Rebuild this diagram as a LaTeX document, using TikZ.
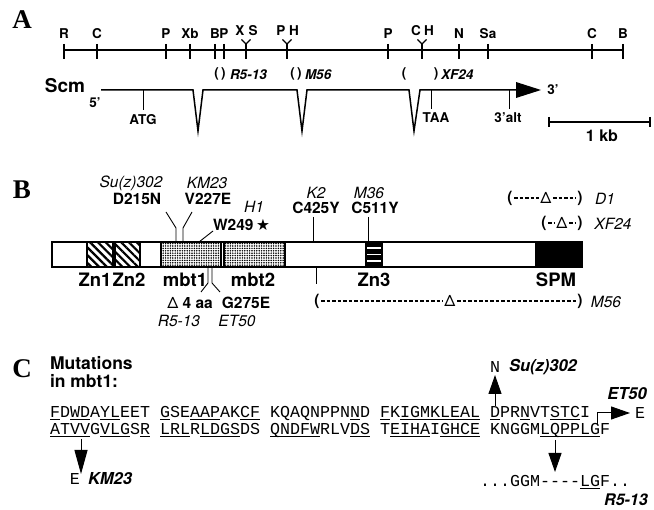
\documentclass[tikz,border=0pt]{standalone}
\usepackage{fontspec}
\setmainfont{TeX Gyre Heros}
\newfontfamily\seqfont{Liberation Mono}
\newfontfamily\panelfont{Liberation Serif}
\newfontfamily\symfont{DejaVu Sans}
\usepackage{tikz}
\usetikzlibrary{arrows.meta,patterns,patterns.meta,calc}
% underlined residue run in a sequence
\newcommand{\useg}[1]{\underline{\smash{#1}}}

\begin{document}
\begin{tikzpicture}[x=1pt,y=-1pt,
  every node/.style={inner sep=0pt,outer sep=0pt},
  panel/.style={font=\panelfont\bfseries\fontsize{27}{27}\selectfont},
  site/.style={font=\bfseries\fontsize{13.5}{13.5}\selectfont},
  allele/.style={font=\bfseries\itshape\fontsize{13.5}{13.5}\selectfont},
  small/.style={font=\bfseries\fontsize{13.5}{13.5}\selectfont},
  lab/.style={font=\bfseries\fontsize{18.5}{18.5}\selectfont},
  mut/.style={font=\bfseries\fontsize{15.5}{15.5}\selectfont},
  mutit/.style={font=\itshape\fontsize{15.5}{15.5}\selectfont},
  gap/.style={font=\fontsize{15.5}{15.5}\selectfont},
  seq/.style={font=\seqfont\fontsize{16.67}{17}\selectfont},
  callout/.style={font=\bfseries\itshape\fontsize{16.5}{16.5}\selectfont},
  stipple/.style={pattern={Dots[distance=2.4pt,radius=0.85pt]}},
  hatch/.style={pattern={Lines[angle=-45,distance=5.5pt,line width=2.2pt]}},
  mapline/.style={line width=2.4pt},
  cut/.style={line width=1.4pt},
  gene/.style={line width=1.5pt,line join=miter},
  pin/.style={line width=0.9pt},
  del/.style={line width=1.3pt,dash pattern=on 3.5pt off 2pt,shorten <=1.5pt,shorten >=1.5pt},
  mutarrow/.style={line width=1pt,-{Triangle[length=19pt,width=13pt]}}
]
\useasboundingbox (0,0) rectangle (654,510);

% ---------- A: restriction map and transcript
\node[panel] (pA) at (22,20) {A};
\draw[mapline] (64,50) -- (592,50);
\draw[line width=1.7pt] (592,50) -- (623,50);
\foreach \x/\e [count=\i] in {64/R,97/C,166/P,190/Xb,215/B,224/P,388/P,459/N,488/Sa,592/C,623/B}{
  \draw[cut] (\x,44) -- (\x,59);
  \node[site] (site\i) at (\x,34) {\e};
}
% paired sites
\foreach \x/\a/\b [count=\i] in {246/X/S,287/P/H,422/C/H}{
  \draw[cut] (\x-4.5,39.5) -- (\x,44) -- (\x+4.5,39.5);
  \draw[cut] (\x,44) -- (\x,59);
  \node[site] (pa\i) at (\x-6,31) {\a};
  \node[site] (pb\i) at (\x+7,31) {\b};
}
% breakpoints
\node[site] (br1) at (220,74) {(\,)};
\node[allele,anchor=west] (al1) at (230,75) {R5-13};
\node[site] (br2) at (296,74) {(\,)};
\node[allele,anchor=west] (al2) at (305,75) {M56};
\node[site] (br3) at (404,74) {(};
\node[site] (br4) at (436,74) {)};
\node[allele,anchor=west] (al3) at (441,75) {XF24};

\node[lab,font=\bfseries\fontsize{19}{19}\selectfont] (scm) at (65,86) {Scm};
\node[small] (end5) at (95,103) {5'};
\draw[gene] (101,90) -- (193,90) -- (198,131) -- (203,90) -- (297,90) -- (302,131)
  -- (307,90) -- (409,90) -- (414,131) -- (420,90) -- (517,90);
\fill (516,82) -- (541,90) -- (516,98) -- cycle;
\node[small] (end3) at (553,90) {3'};
\draw[pin,line width=1pt] (143,90) -- (143,110);
\node[small] (atg) at (143,120) {ATG};
\draw[pin,line width=1pt] (431,90) -- (431,109);
\node[small] (taa) at (436,118) {TAA};
\draw[pin,line width=1pt] (509,90) -- (509,109);
\node[small] (alt) at (508,118) {3'alt};
% scale bar
\draw[line width=1.2pt] (549,117) -- (549,127) (549,122) -- (650,122) (650,117) -- (650,127);
\node[lab,font=\bfseries\fontsize{16}{16}\selectfont] (kb) at (602,136) {1 kb};

% ---------- B: protein
\node[panel] (pB) at (22,190) {B};
\draw[line width=1.2pt,hatch] (87,242) rectangle (113,267);
\draw[line width=1.2pt,hatch] (115,242) rectangle (140,267);
\draw[line width=1.2pt,stipple] (161,242) rectangle (221,267);
\draw[line width=1.2pt,stipple] (224,242) rectangle (285,267);
\fill (365,242) rectangle (383,267);
\foreach \y in {248,254.5,261} \draw[white,line width=1.6pt] (367,\y) -- (381,\y);
\fill (535,242) rectangle (582,267);
\draw[line width=2pt] (52,242) rectangle (582,267);

\node[lab] (zn1) at (95,280) {Zn1};
\node[lab] (zn2) at (129,280) {Zn2};
\node[lab] (mbt1) at (185,280) {mbt1};
\node[lab] (mbt2) at (253,280) {mbt2};
\node[lab] (zn3) at (374,280) {Zn3};
\node[lab] (spm) at (556,280) {SPM};

% point mutations
\node[mutit] (suz) at (131,183) {Su(z)302};
\node[mut] (d215) at (137,199) {D215N};
\node[mutit] (km) at (207,183) {KM23};
\node[mut] (v227) at (208,199) {V227E};
\node[mutit] (h1) at (254,207) {H1};
\node[mut,anchor=west] (w249) at (213,225) {W249\,{\symfont ★}};
\node[mutit] (k2) at (316,193) {K2};
\node[mut] (c425) at (316,208) {C425Y};
\node[mutit] (m36) at (369,193) {M36};
\node[mut] (c511) at (375,208) {C511Y};
\draw[pin] (166,212) -- (176,228) -- (176,242);
\draw[pin] (192,212) -- (183,228) -- (183,242);
\draw[pin] (213,231) -- (199,242);
\draw[pin] (313,217) -- (313,242);
\draw[pin] (368,217) -- (368,242);
\draw[pin] (208,267) -- (208,283) -- (201,292);
\draw[pin] (212,267) -- (212,283) -- (220,292);
\draw[pin] (316,267) -- (316,284);
\node[mut] (d4) at (190,303) {{\mdseries Δ} 4 aa};
\node[mut] (g275) at (246,303) {G275E};
\node[mutit] (r513) at (179,321) {R5-13};
\node[mutit] (et50) at (237,321) {ET50};

% deletions
\node[mut] (d1l) at (510,198) {(};
\node[gap] (d1d) at (546,198) {Δ};
\node[mut] (d1r) at (580,198) {)};
\draw[del] (d1l) -- (d1d);
\draw[del] (d1d) -- (d1r);
\node[mutit] (d1) at (605,199) {D1};
\node[mut] (xfl) at (544,223) {(};
\node[gap] (xfd) at (562,223) {Δ};
\node[mut] (xfr) at (580,223) {)};
\draw[del] (xfl) -- (xfd);
\draw[del] (xfd) -- (xfr);
\node[mutit] (xf24) at (613,224) {XF24};
\node[mut] (m56l) at (317,301) {(};
\node[gap] (m56d) at (450,301) {Δ};
\node[mut] (m56r) at (580,301) {)};
\draw[del] (m56l) -- (m56d);
\draw[del] (m56d) -- (m56r);
\node[mutit] (m56) at (606,302) {M56};

% ---------- C: mbt1 sequence
\node[panel] (pC) at (22,369) {C};
\node[lab,font=\bfseries\fontsize{17.5}{17.5}\selectfont,anchor=west] (mt1) at (50,363) {Mutations};
\node[lab,font=\bfseries\fontsize{17.5}{17.5}\selectfont,anchor=west] (mt2) at (50,381) {in mbt1:};
\node[seq,anchor=base west] (row1) at (50,418)
  {\useg{F}D\useg{WD}A\useg{YL}EET \useg{G}SE\useg{AAP}AK\useg{CF} KQAQNPPN\useg{N}D \useg{F}K\useg{IGMKLEAL} \useg{D}PR\useg{N}VT\useg{STC}I};
\node[seq,anchor=base west] (row2) at (50,435)
  {\useg{ATVV}G\useg{VLG}S\useg{R} \useg{LRL}R\useg{LDGS}DS \useg{QNDFW}RLV\useg{DS} T\useg{EIHA}I\useg{GHCE} KNGGM\useg{LQPPLG}F};

\coordinate (kmtop) at (81,439);
\coordinate (kmtip) at (81,474);
\draw[mutarrow,-{Triangle[length=24pt,width=13pt]}] (kmtop) -- (kmtip);
\node[seq] (kme) at (75,479) {E};
\node[callout,anchor=west] (kmlab) at (88,479) {KM23};

\coordinate (suztop) at (495,406);
\coordinate (suztip) at (495,375);
\draw[mutarrow] (suztop) -- (suztip);
\node[seq] (suzn) at (495,367) {N};
\node[callout,anchor=west] (suzlab) at (509,367) {Su(z)302};

\coordinate (etfoot) at (597,424);
\coordinate (ettip) at (630,413);
\draw[mutarrow] (etfoot) |- (ettip);
\node[seq] (ete) at (640,413) {E};
\node[callout] (etlab) at (627,394) {ET50};

\coordinate (rtop) at (555,440);
\coordinate (rtip) at (555,472);
\draw[mutarrow] (rtop) -- (rtip);
\node[seq,anchor=base west] (rrow) at (480,487) {...GGM-{}-{}-{}-\useg{LG}F..};
\node[callout,font=\bfseries\itshape\fontsize{16}{16}\selectfont] (rlab) at (626,500) {R5-13};
\end{tikzpicture}
\end{document}
